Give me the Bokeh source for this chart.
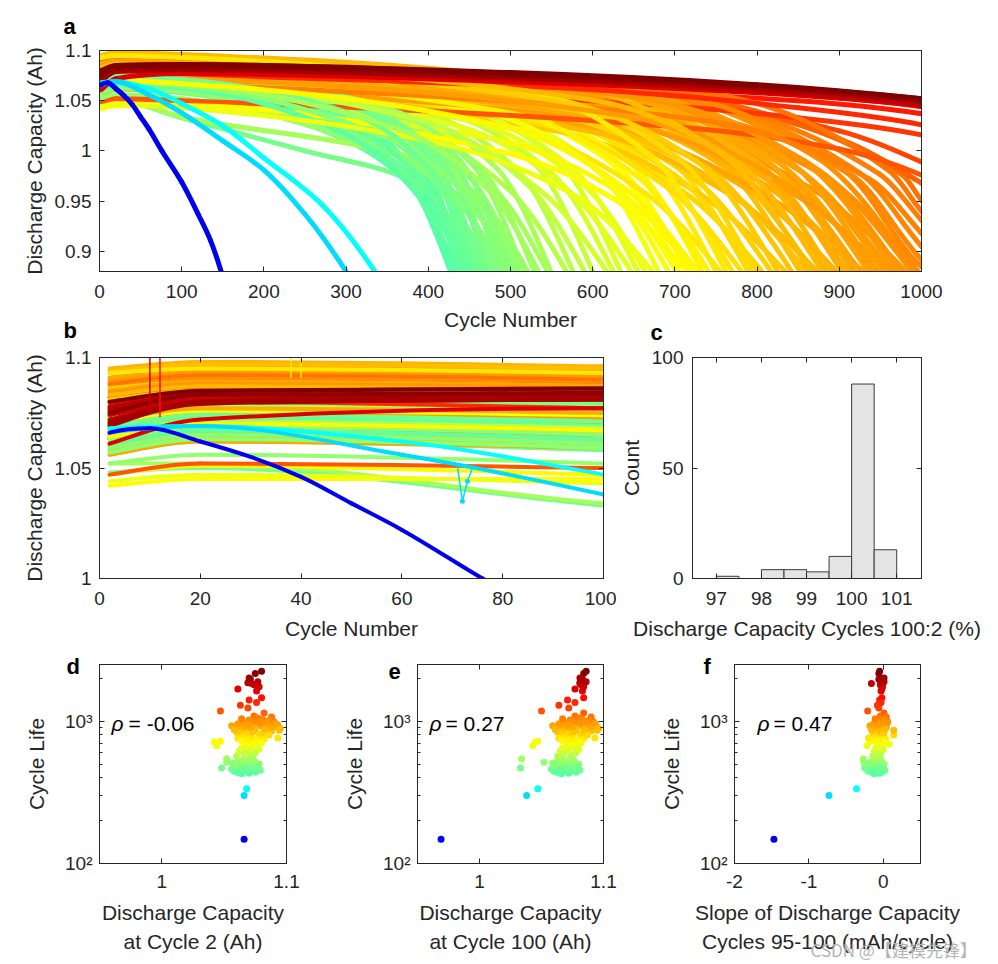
from bokeh.plotting import figure
from bokeh.models import (Range1d, FixedTicker, LinearAxis, LogAxis, CustomJSTickFormatter,
                          Label, Title, ColumnDataSource, LogColorMapper)
from bokeh.layouts import column, row
from bokeh.transform import transform
from bokeh.embed import file_html
from bokeh.resources import INLINE

# ---------------- data ----------------
cycle_life = [
    148, 300, 335,
    427, 430, 436, 438, 442, 445, 447, 450, 452, 455, 461, 462, 466, 468, 470, 474, 476, 481,
    485, 489, 492, 495, 498, 502, 505, 508, 512, 514, 516, 521, 529, 534, 545, 549,
    568, 576, 590, 600, 617, 625, 634, 647, 655, 664, 673, 680, 692,
    702, 705, 714, 716, 723, 727, 733, 741, 750, 755, 762, 770, 781, 789, 796, 798, 806, 817,
    825, 834, 842,
    852, 860, 864, 868, 873, 879, 886, 889, 896, 903, 910, 916, 921, 925, 929, 935, 941, 944,
    948, 955, 958, 962, 968, 975, 981, 988, 992, 996,
    1009, 1017, 1028, 1041, 1054, 1068, 1085,
    1143, 1178, 1235,
    1295, 1352, 1408, 1462,
    1631, 1683, 1741, 1800, 1836, 1862, 1893, 1966, 2008, 2160, 2237]

cap_cycle2 = [
    1.066, 1.066, 1.068,
    1.064, 1.070, 1.061, 1.075, 1.067, 1.058, 1.072, 1.065, 1.079, 1.062, 1.069, 1.056, 1.073,
    1.048, 1.066, 1.077, 1.060, 1.070, 1.064, 1.074, 1.059, 1.068, 1.078, 1.063, 1.071, 1.057,
    1.067, 1.052, 1.075, 1.061, 1.069, 1.065, 1.052, 1.073,
    1.060, 1.071, 1.066, 1.075, 1.062, 1.069, 1.078, 1.064, 1.072, 1.068, 1.044, 1.076, 1.070,
    1.067, 1.080, 1.042, 1.073, 1.047, 1.064, 1.076, 1.069, 1.082, 1.061, 1.093, 1.072, 1.066,
    1.078, 1.070, 1.086, 1.063, 1.068, 1.081, 1.060, 1.073,
    1.088, 1.066, 1.094, 1.075, 1.058, 1.083, 1.070, 1.095, 1.063, 1.087, 1.072, 1.091, 1.067,
    1.080, 1.056, 1.085, 1.074, 1.093, 1.069, 1.082, 1.061, 1.077, 1.089, 1.084, 1.065, 1.079,
    1.090, 1.073,
    1.086, 1.070, 1.081, 1.064, 1.077, 1.088, 1.074,
    1.082, 1.047, 1.069,
    1.063, 1.076, 1.070, 1.080,
    1.076, 1.061, 1.078, 1.074, 1.072, 1.069, 1.077, 1.071, 1.070, 1.075, 1.080]

cap_cycle20 = [
    1.062, 1.069, 1.069,
    1.070, 1.075, 1.067, 1.080, 1.073, 1.064, 1.077, 1.071, 1.083, 1.067, 1.074, 1.062, 1.078,
    1.050, 1.072, 1.081, 1.066, 1.075, 1.070, 1.079, 1.065, 1.073, 1.082, 1.069, 1.076, 1.063,
    1.072, 1.056, 1.080, 1.067, 1.074, 1.071, 1.052, 1.078,
    1.066, 1.076, 1.071, 1.080, 1.068, 1.074, 1.082, 1.070, 1.077, 1.073, 1.047, 1.081, 1.075,
    1.072, 1.084, 1.045, 1.078, 1.051, 1.070, 1.081, 1.074, 1.086, 1.067, 1.095, 1.077, 1.072,
    1.083, 1.075, 1.089, 1.069, 1.073, 1.085, 1.066, 1.078,
    1.092, 1.072, 1.097, 1.080, 1.064, 1.087, 1.075, 1.098, 1.069, 1.091, 1.077, 1.094, 1.073,
    1.085, 1.062, 1.089, 1.079, 1.096, 1.074, 1.086, 1.067, 1.082, 1.093, 1.088, 1.071, 1.084,
    1.094, 1.078,
    1.090, 1.075, 1.085, 1.070, 1.082, 1.092, 1.079,
    1.086, 1.052, 1.074,
    1.068, 1.080, 1.075, 1.084,
    1.082, 1.072, 1.083, 1.081, 1.080, 1.080, 1.084, 1.080, 1.079, 1.083, 1.085]

cap_cycle100 = [
    0.969, 1.038, 1.047,
    1.066, 1.072, 1.063, 1.078, 1.069, 1.060, 1.074, 1.068, 1.081, 1.064, 1.071, 1.058, 1.076,
    1.033, 1.069, 1.079, 1.062, 1.073, 1.066, 1.077, 1.061, 1.070, 1.080, 1.065, 1.074, 1.059,
    1.069, 1.052, 1.077, 1.063, 1.072, 1.067, 1.034, 1.075,
    1.063, 1.074, 1.068, 1.078, 1.065, 1.072, 1.080, 1.067, 1.075, 1.071, 1.043, 1.079, 1.073,
    1.070, 1.082, 1.045, 1.076, 1.047, 1.067, 1.079, 1.072, 1.084, 1.064, 1.093, 1.075, 1.069,
    1.081, 1.073, 1.087, 1.066, 1.071, 1.083, 1.063, 1.076,
    1.090, 1.069, 1.095, 1.078, 1.061, 1.085, 1.073, 1.096, 1.066, 1.089, 1.075, 1.092, 1.070,
    1.083, 1.059, 1.087, 1.077, 1.094, 1.072, 1.084, 1.064, 1.080, 1.091, 1.086, 1.068, 1.082,
    1.092, 1.076,
    1.088, 1.073, 1.083, 1.067, 1.080, 1.090, 1.077,
    1.084, 1.050, 1.072,
    1.064, 1.077, 1.071, 1.084,
    1.083, 1.077, 1.084, 1.082, 1.081, 1.081, 1.086, 1.083, 1.081, 1.084, 1.086]

slope_95_100 = [
    -1.47, -0.73, -0.36,
    -0.12, -0.05, -0.15, -0.02, -0.10, -0.20, -0.06, -0.09, 0.02, -0.14, -0.07, -0.22, -0.03,
    -0.25, -0.10, -0.01, -0.17, -0.05, -0.12, -0.04, -0.18, -0.08, 0.01, -0.13, -0.05, -0.21,
    -0.09, -0.26, -0.02, -0.15, -0.06, -0.11, -0.27, -0.04,
    -0.14, -0.05, -0.09, -0.03, -0.12, -0.06, 0.00, -0.10, -0.04, -0.07, -0.22, -0.02, 0.08,
    -0.08, 0.01, -0.09, -0.04, -0.18, -0.11, -0.01, -0.06, 0.03, -0.13, -0.20, -0.05, -0.09,
    0.00, -0.07, 0.14, -0.12, -0.08, 0.01, -0.14, -0.05,
    -0.05, -0.10, 0.14, -0.03, -0.16, 0.02, -0.07, -0.04, -0.12, 0.04, -0.05, 0.01, -0.09,
    0.01, -0.18, 0.03, -0.04, 0.00, -0.07, 0.02, -0.13, -0.01, 0.05, 0.03, -0.10, 0.00,
    0.06, -0.05,
    0.02, -0.07, 0.01, -0.11, -0.02, 0.04, -0.04,
    0.01, -0.21, -0.06,
    -0.08, -0.03, -0.05, -0.02,
    -0.03, -0.02, -0.01, -0.04, -0.16, -0.03, 0.01, -0.06, 0.01, -0.06, -0.05]

knee1_cycle = [
    120, 200, 200,
    290, 292, 296, 298, 300, 302, 304, 306, 307, 309, 313, 314, 317, 250, 320, 322, 324, 327,
    330, 333, 335, 337, 339, 341, 343, 345, 348, 340, 351, 354, 360, 363, 330, 373,
    386, 392, 401, 408, 420, 425, 431, 440, 445, 452, 400, 462, 471,
    477, 479, 490, 487, 480, 494, 498, 504, 510, 513, 518, 524, 531, 537, 541, 543, 548, 556,
    561, 567, 573,
    579, 585, 588, 590, 594, 598, 602, 605, 609, 614, 619, 623, 626, 629, 632, 636, 640, 642,
    645, 649, 651, 654, 658, 663, 667, 672, 675, 677,
    706, 712, 720, 729, 738, 748, 760,
    700, 700, 700,
    600, 600, 600, 600,
    500, 500, 500, 500, 500, 500, 500, 500, 500, 500, 500]

knee1_cap = [
    0.937, 0.981, 0.993,
    1.026, 1.038, 1.018, 1.044, 1.033, 1.010, 1.040, 1.024, 1.047, 1.014, 1.035, 1.006, 1.041,
    1.000, 1.028, 1.044, 1.012, 1.037, 1.020, 1.042, 1.008, 1.034, 1.046, 1.016, 1.038, 1.004,
    1.032, 1.002, 1.042, 1.015, 1.036, 1.022, 1.003, 1.039,
    1.020, 1.039, 1.028, 1.043, 1.016, 1.036, 1.046, 1.024, 1.040, 1.030, 1.010, 1.044, 1.038,
    1.034, 1.048, 0.999, 1.041, 1.012, 1.024, 1.045, 1.037, 1.050, 1.020, 1.060, 1.040, 1.028,
    1.047, 1.038, 1.054, 1.022, 1.036, 1.049, 1.018, 1.041,
    1.057, 1.030, 1.062, 1.044, 1.020, 1.051, 1.038, 1.063, 1.026, 1.055, 1.040, 1.059, 1.032,
    1.049, 1.019, 1.053, 1.042, 1.061, 1.034, 1.050, 1.024, 1.046, 1.057, 1.052, 1.029, 1.048,
    1.058, 1.041,
    1.054, 1.038, 1.048, 1.031, 1.045, 1.056, 1.042,
    1.056, 1.024, 1.050,
    1.050, 1.061, 1.060, 1.068,
    1.073, 1.069, 1.075, 1.073, 1.072, 1.073, 1.077, 1.074, 1.073, 1.076, 1.078]

knee2_cycle = [
    135, 250, 270,
    375, 378, 383, 385, 389, 392, 393, 396, 398, 400, 406, 406, 410, 380, 414, 417, 419, 423,
    427, 430, 433, 436, 438, 442, 444, 447, 451, 450, 454, 458, 466, 470, 470, 483,
    500, 507, 519, 528, 543, 550, 558, 569, 576, 584, 580, 598, 609,
    618, 620, 630, 630, 630, 640, 645, 652, 660, 664, 671, 678, 687, 694, 700, 702, 709, 719,
    726, 734, 741,
    750, 757, 760, 764, 768, 774, 780, 782, 788, 795, 801, 806, 810, 814, 818, 823, 828, 831,
    834, 840, 843, 847, 852, 858, 863, 869, 873, 876,
    908, 915, 925, 937, 949, 961, 977,
    900, 900, 900,
    850, 850, 850, 850,
    800, 800, 800, 800, 800, 800, 800, 800, 800, 800, 800]

knee2_cap = [
    0.911, 0.937, 0.947,
    0.972, 0.985, 0.960, 0.990, 0.973, 0.955, 0.984, 0.966, 0.992, 0.958, 0.978, 0.950, 0.986,
    0.970, 0.968, 0.990, 0.956, 0.980, 0.962, 0.988, 0.952, 0.976, 0.991, 0.960, 0.982, 0.948,
    0.973, 0.958, 0.986, 0.957, 0.980, 0.964, 0.968, 0.983,
    0.960, 0.982, 0.968, 0.988, 0.956, 0.978, 0.990, 0.962, 0.982, 0.970, 0.955, 0.988, 0.978,
    0.973, 0.990, 0.950, 0.984, 0.960, 0.962, 0.988, 0.976, 0.992, 0.958, 0.995, 0.980, 0.966,
    0.990, 0.976, 0.994, 0.960, 0.975, 0.990, 0.955, 0.982,
    0.992, 0.966, 0.995, 0.982, 0.956, 0.990, 0.976, 0.996, 0.962, 0.992, 0.978, 0.994, 0.966,
    0.986, 0.952, 0.990, 0.980, 0.995, 0.968, 0.988, 0.958, 0.983, 0.992, 0.990, 0.964, 0.984,
    0.993, 0.978,
    0.979, 0.976, 0.978, 0.972, 0.977, 0.980, 0.976,
    1.012, 1.002, 1.020,
    1.033, 1.043, 1.050, 1.056,
    1.060, 1.058, 1.062, 1.061, 1.060, 1.062, 1.065, 1.063, 1.063, 1.065, 1.066]

# extra points read on the three short-lived cells (cell index, cycle, capacity)
extra_cell = [0, 0, 0, 0, 0, 0, 1, 1, 2, 2]
extra_cycle = [10, 30, 40, 50, 60, 76, 60, 150, 60, 150]
extra_cap = [1.068, 1.055, 1.046, 1.034, 1.022, 1.000, 1.056, 1.010, 1.062, 1.025]

# capacity at cycle 1000 for the cells that outlive cycle 1000 (in list order)
cap_at_cycle_1000 = [0.885, 0.892, 0.905, 0.918, 0.931, 0.940, 0.951,
                     0.968, 0.976, 0.989,
                     1.016, 1.026, 1.037, 1.044,
                     1.046, 1.045, 1.048, 1.047, 1.046, 1.049, 1.050, 1.049, 1.051, 1.052, 1.052]

# measurement glitches visible in panel b (thin connecting lines): life, from, to
glitch_life = [1800, 1462, 750, 750, 300, 300, 300]
glitch_x0 = [10, 12, 38, 40, 71, 72, 73]
glitch_y0 = [1.076, 1.073, 1.091, 1.091, 1.051, 1.035, 1.044]
glitch_x1 = [10, 12, 38, 40, 72, 73, 74]
glitch_y1 = [1.105, 1.105, 1.105, 1.105, 1.035, 1.044, 1.050]
glitch_dot_x = [72, 73]
glitch_dot_y = [1.035, 1.044]
glitch_dot_life = [300, 300]

early_cycles = [2, 20, 100]
end_of_life_cap = 0.88
last_cycle_shown = 1000

hist_edges = [97.0, 97.5, 98.0, 98.5, 99.0, 99.5, 100.0, 100.5, 101.0]
hist_counts = [1, 0, 4, 4, 3, 10, 88, 13]

rho_values = ["-0.06", "0.27", "0.47"]

ticks_a_x = [0, 100, 200, 300, 400, 500, 600, 700, 800, 900, 1000]
ticks_a_y = [0.9, 0.95, 1.0, 1.05, 1.1]
ticks_b_x = [0, 20, 40, 60, 80, 100]
ticks_b_y = [1.0, 1.05, 1.1]
ticks_c_x = [97, 98, 99, 100, 101]
ticks_c_y = [0, 50, 100]
ticks_cap_x = [1.0, 1.1]
ticks_slope_x = [-2, -1, 0]
ticks_life_y = [100, 1000]
minor_life_y = [200, 300, 400, 500, 600, 700, 800, 900, 2000]

# ---------------- styling helpers ----------------
FONT = "Liberation Sans"
INK = "#262626"


def jet(t):
    def c(v):
        return max(0.0, min(1.0, v))
    r = c(1.5 - abs(4 * t - 3))
    g = c(1.5 - abs(4 * t - 2))
    b = c(1.5 - abs(4 * t - 1))
    return "#%02x%02x%02x" % (round(r * 255), round(g * 255), round(b * 255))


JET = [jet(i / 255) for i in range(256)]
mapper = LogColorMapper(palette=JET, low=105, high=2240)

NUM = "return String(Math.round(tick*1000)/1000);"
LOG = "const s = {2: '\u00b2', 3: '\u00b3'}; return '10' + s[Math.round(Math.log10(tick))];"
EMPTY = "return '';"


def base_fig(w, h, xr, yr, mb, log_y=False):
    p = figure(width=w, height=h, x_range=xr, y_range=yr,
               y_axis_type=("log" if log_y else "linear"),
               output_backend="svg", toolbar_location=None,
               min_border_left=mb[0], min_border_right=mb[1],
               min_border_top=mb[2], min_border_bottom=mb[3])
    p.xgrid.visible = False
    p.ygrid.visible = False
    p.outline_line_color = INK
    p.background_fill_color = "white"
    p.border_fill_color = "white"
    return p


def style_axis(ax, ticks, code, label=None, minor=None, lab_standoff=8, ax_standoff=6,
               line_height=1.2):
    ax.ticker = FixedTicker(ticks=ticks, minor_ticks=minor or [])
    ax.formatter = CustomJSTickFormatter(code=code)
    ax.axis_line_color = INK
    ax.major_tick_line_color = INK
    ax.minor_tick_line_color = INK
    ax.major_tick_in = 5
    ax.major_tick_out = 0
    ax.minor_tick_in = 3
    ax.minor_tick_out = 0
    ax.major_label_text_font = FONT
    ax.major_label_text_font_size = "19px"
    ax.major_label_text_color = INK
    ax.major_label_standoff = lab_standoff
    if label is not None:
        ax.axis_label = label
        ax.axis_label_text_font = FONT
        ax.axis_label_text_font_size = "21px"
        ax.axis_label_text_font_style = "normal"
        ax.axis_label_text_color = INK
        ax.axis_label_standoff = ax_standoff
        ax.axis_label_text_line_height = line_height


def mirror(p, ticks, side, log=False, minor=None):
    Ax = LogAxis if log else LinearAxis
    ax = Ax()
    style_axis(ax, ticks, EMPTY, minor=minor, lab_standoff=0)
    ax.major_label_text_font_size = "1px"
    p.add_layout(ax, side)


def set_title(t, text, offset, standoff, valign, size="22px", style="bold", color="black",
              font=FONT):
    t.text = text
    t.align = "left"
    t.offset = offset
    t.standoff = standoff
    t.vertical_align = valign
    t.text_font = font
    t.text_font_size = size
    t.text_font_style = style
    t.text_color = color


def label(p, x, y, text, size="21px", style="normal"):
    p.add_layout(Label(x=x, y=y, text=text, text_font=FONT, text_font_size=size,
                       text_font_style=style, text_align="left", text_baseline="middle",
                       text_color="black"))


# ---------------- curves: the read points joined by smooth (monotone) Bezier pieces ----------
def pchip_slopes(px, py):
    n = len(px)
    h = [px[i + 1] - px[i] for i in range(n - 1)]
    d = [(py[i + 1] - py[i]) / h[i] for i in range(n - 1)]
    m = [0.0] * n
    for i in range(1, n - 1):
        if d[i - 1] * d[i] > 0:
            w1 = 2 * h[i] + h[i - 1]
            w2 = h[i] + 2 * h[i - 1]
            m[i] = (w1 + w2) / (w1 / d[i - 1] + w2 / d[i])

    def edge(h0, h1, d0, d1):
        e = ((2 * h0 + h1) * d0 - h0 * d1) / (h0 + h1)
        if e * d0 <= 0:
            return 0.0
        if d0 * d1 <= 0 and abs(e) > abs(3 * d0):
            return 3 * d0
        return e

    if n > 2:
        m[0] = edge(h[0], h[1], d[0], d[1])
        m[-1] = edge(h[-1], h[-2], d[-1], d[-2])
    else:
        m[0] = m[-1] = d[0]
    return m


curve_pts = []
long_iter = iter(cap_at_cycle_1000)
for i, life in enumerate(cycle_life):
    pts = list(zip(early_cycles + [knee1_cycle[i], knee2_cycle[i]],
                   [cap_cycle2[i], cap_cycle20[i], cap_cycle100[i], knee1_cap[i], knee2_cap[i]]))
    pts += [(c, v) for k, c, v in zip(extra_cell, extra_cycle, extra_cap) if k == i]
    if life > last_cycle_shown:
        pts.append((last_cycle_shown, next(long_iter)))
    pts.append((life, end_of_life_cap))
    pts.sort()
    curve_pts.append(pts)

# drawing order: mixed for most cells, the long-lived dark reds, then cyan and blue on top
N = len(cycle_life)
mixed = sorted([i for i in range(3, N) if cycle_life[i] <= 1600], key=lambda i: (i * 37) % 97)
order = mixed + [i for i in range(N) if cycle_life[i] > 1600] + [2, 1, 0]

seg = dict(x0=[], y0=[], x1=[], y1=[], cx0=[], cy0=[], cx1=[], cy1=[], life=[])
for i in order:
    px = [q[0] for q in curve_pts[i]]
    py = [q[1] for q in curve_pts[i]]
    m = pchip_slopes(px, py)
    for k in range(len(px) - 1):
        hk = px[k + 1] - px[k]
        seg["x0"].append(px[k])
        seg["y0"].append(py[k])
        seg["x1"].append(px[k + 1])
        seg["y1"].append(py[k + 1])
        seg["cx0"].append(px[k] + hk / 3)
        seg["cy0"].append(py[k] + m[k] * hk / 3)
        seg["cx1"].append(px[k + 1] - hk / 3)
        seg["cy1"].append(py[k + 1] - m[k + 1] * hk / 3)
        seg["life"].append(cycle_life[i])

seg_src = ColumnDataSource(seg)
cell_src = ColumnDataSource(dict(life=[cycle_life[i] for i in order],
                                 c2=[cap_cycle2[i] for i in order],
                                 c100=[cap_cycle100[i] for i in order],
                                 slope=[slope_95_100[i] for i in order]))


def draw_curves(p, width):
    p.bezier(x0="x0", y0="y0", x1="x1", y1="y1", cx0="cx0", cy0="cy0", cx1="cx1", cy1="cy1",
             source=seg_src, line_color=transform("life", mapper), line_width=width,
             line_cap="round")


# ---------------- panel a ----------------
p_a = base_fig(990, 345, Range1d(0, 1000), Range1d(0.88, 1.1), (99, 69, 50, 74))
draw_curves(p_a, 5)
style_axis(p_a.xaxis[0], ticks_a_x, NUM, "Cycle Number", lab_standoff=13, ax_standoff=7)
style_axis(p_a.yaxis[0], ticks_a_y, NUM, "Discharge Capacity (Ah)", lab_standoff=8, ax_standoff=6)
mirror(p_a, ticks_a_x, "above")
mirror(p_a, ticks_a_y, "right")
set_title(p_a.title, "a", -36, 20, "top")
t_b = Title()
set_title(t_b, "b", -36, -32, "top")
p_a.add_layout(t_b, "below")
t_c = Title()
set_title(t_c, "c", 551, -28, "top")
p_a.add_layout(t_c, "below")

# ---------------- panel b ----------------
p_b = base_fig(616, 300, Range1d(0, 100), Range1d(1.0, 1.1), (99, 13, 12, 67))
draw_curves(p_b, 4)
glitch_src = ColumnDataSource(dict(x0=glitch_x0, y0=glitch_y0, x1=glitch_x1, y1=glitch_y1,
                                   life=glitch_life))
p_b.segment(x0="x0", y0="y0", x1="x1", y1="y1", source=glitch_src,
            line_color=transform("life", mapper), line_width=1.5)
p_b.scatter(x=glitch_dot_x, y=glitch_dot_y, size=5,
            fill_color=[JET[int(255 * 0.343)] for _ in glitch_dot_life], line_color=None)
style_axis(p_b.xaxis[0], ticks_b_x, NUM, "Cycle Number", lab_standoff=13, ax_standoff=9)
style_axis(p_b.yaxis[0], ticks_b_y, NUM, "Discharge Capacity (Ah)", lab_standoff=8, ax_standoff=6)
mirror(p_b, ticks_b_x, "above")
mirror(p_b, ticks_b_y, "right")

# ---------------- panel c ----------------
p_c = base_fig(374, 300, Range1d(96.47, 101.55), Range1d(0, 100), (72, 69, 12, 67))
p_c.quad(left=hist_edges[:-1], right=hist_edges[1:], bottom=0, top=hist_counts,
         fill_color="#e4e4e4", line_color="#3a3a3a", line_width=1)
style_axis(p_c.xaxis[0], ticks_c_x, NUM, "Discharge Capacity Cycles 100:2 (%)",
           lab_standoff=13, ax_standoff=9)
style_axis(p_c.yaxis[0], ticks_c_y, NUM, "Count", lab_standoff=9, ax_standoff=6)
mirror(p_c, ticks_c_x, "above")
mirror(p_c, ticks_c_y, "right")


# ---------------- panels d, e, f ----------------
def scatter_panel(w, mb, xr, xfield, xticks, xlabel, letter, letter_offset, rho_x, eq_x, rho):
    p = base_fig(w, 319, xr, Range1d(100, 2500), mb, log_y=True)
    p.scatter(x=xfield, y="life", source=cell_src, size=7,
              fill_color=transform("life", mapper), line_color=None)
    style_axis(p.xaxis[0], xticks, NUM, xlabel, lab_standoff=11, ax_standoff=10, line_height=1.3)
    style_axis(p.yaxis[0], ticks_life_y, LOG, "Cycle Life", minor=minor_life_y,
               lab_standoff=7, ax_standoff=14)
    mirror(p, xticks, "above")
    mirror(p, ticks_life_y, "right", log=True, minor=minor_life_y)
    set_title(p.title, letter, letter_offset, -29, "bottom")
    label(p, rho_x, 957, "\u03c1", style="italic")
    label(p, eq_x, 957, "= " + rho)
    return p


p_d = scatter_panel(320, (99, 34, 19, 101), Range1d(0.95, 1.1), "c2", ticks_cap_x,
                    "Discharge Capacity\nat Cycle 2 (Ah)", "d", -33, 0.9596, 0.9733,
                    rho_values[0])
p_e = scatter_panel(320, (97, 37, 19, 101), Range1d(0.95, 1.1), "c100", ticks_cap_x,
                    "Discharge Capacity\nat Cycle 100 (Ah)", "e", -29, 0.9597, 0.9726,
                    rho_values[1])
p_f = scatter_panel(350, (94, 70, 19, 101), Range1d(-2, 0.5), "slope", ticks_slope_x,
                    "Slope of Discharge Capacity\nCycles 95-100 (mAh/cycle)", "f", -31,
                    -1.691, -1.476, rho_values[2])
t_w = Title()
set_title(t_w, "CSDN @\u3010\u5efa\u6a21\u5148\u950b\u3011", 76, -40, "top", size="17px",
          style="normal", color="#b4b4b4", font="Noto Sans CJK SC")
p_f.add_layout(t_w, "below")

layout = column(p_a, row(p_b, p_c), row(p_d, p_e, p_f))
open("out.html", "w").write(file_html(layout, INLINE, "Battery cycle life"))
